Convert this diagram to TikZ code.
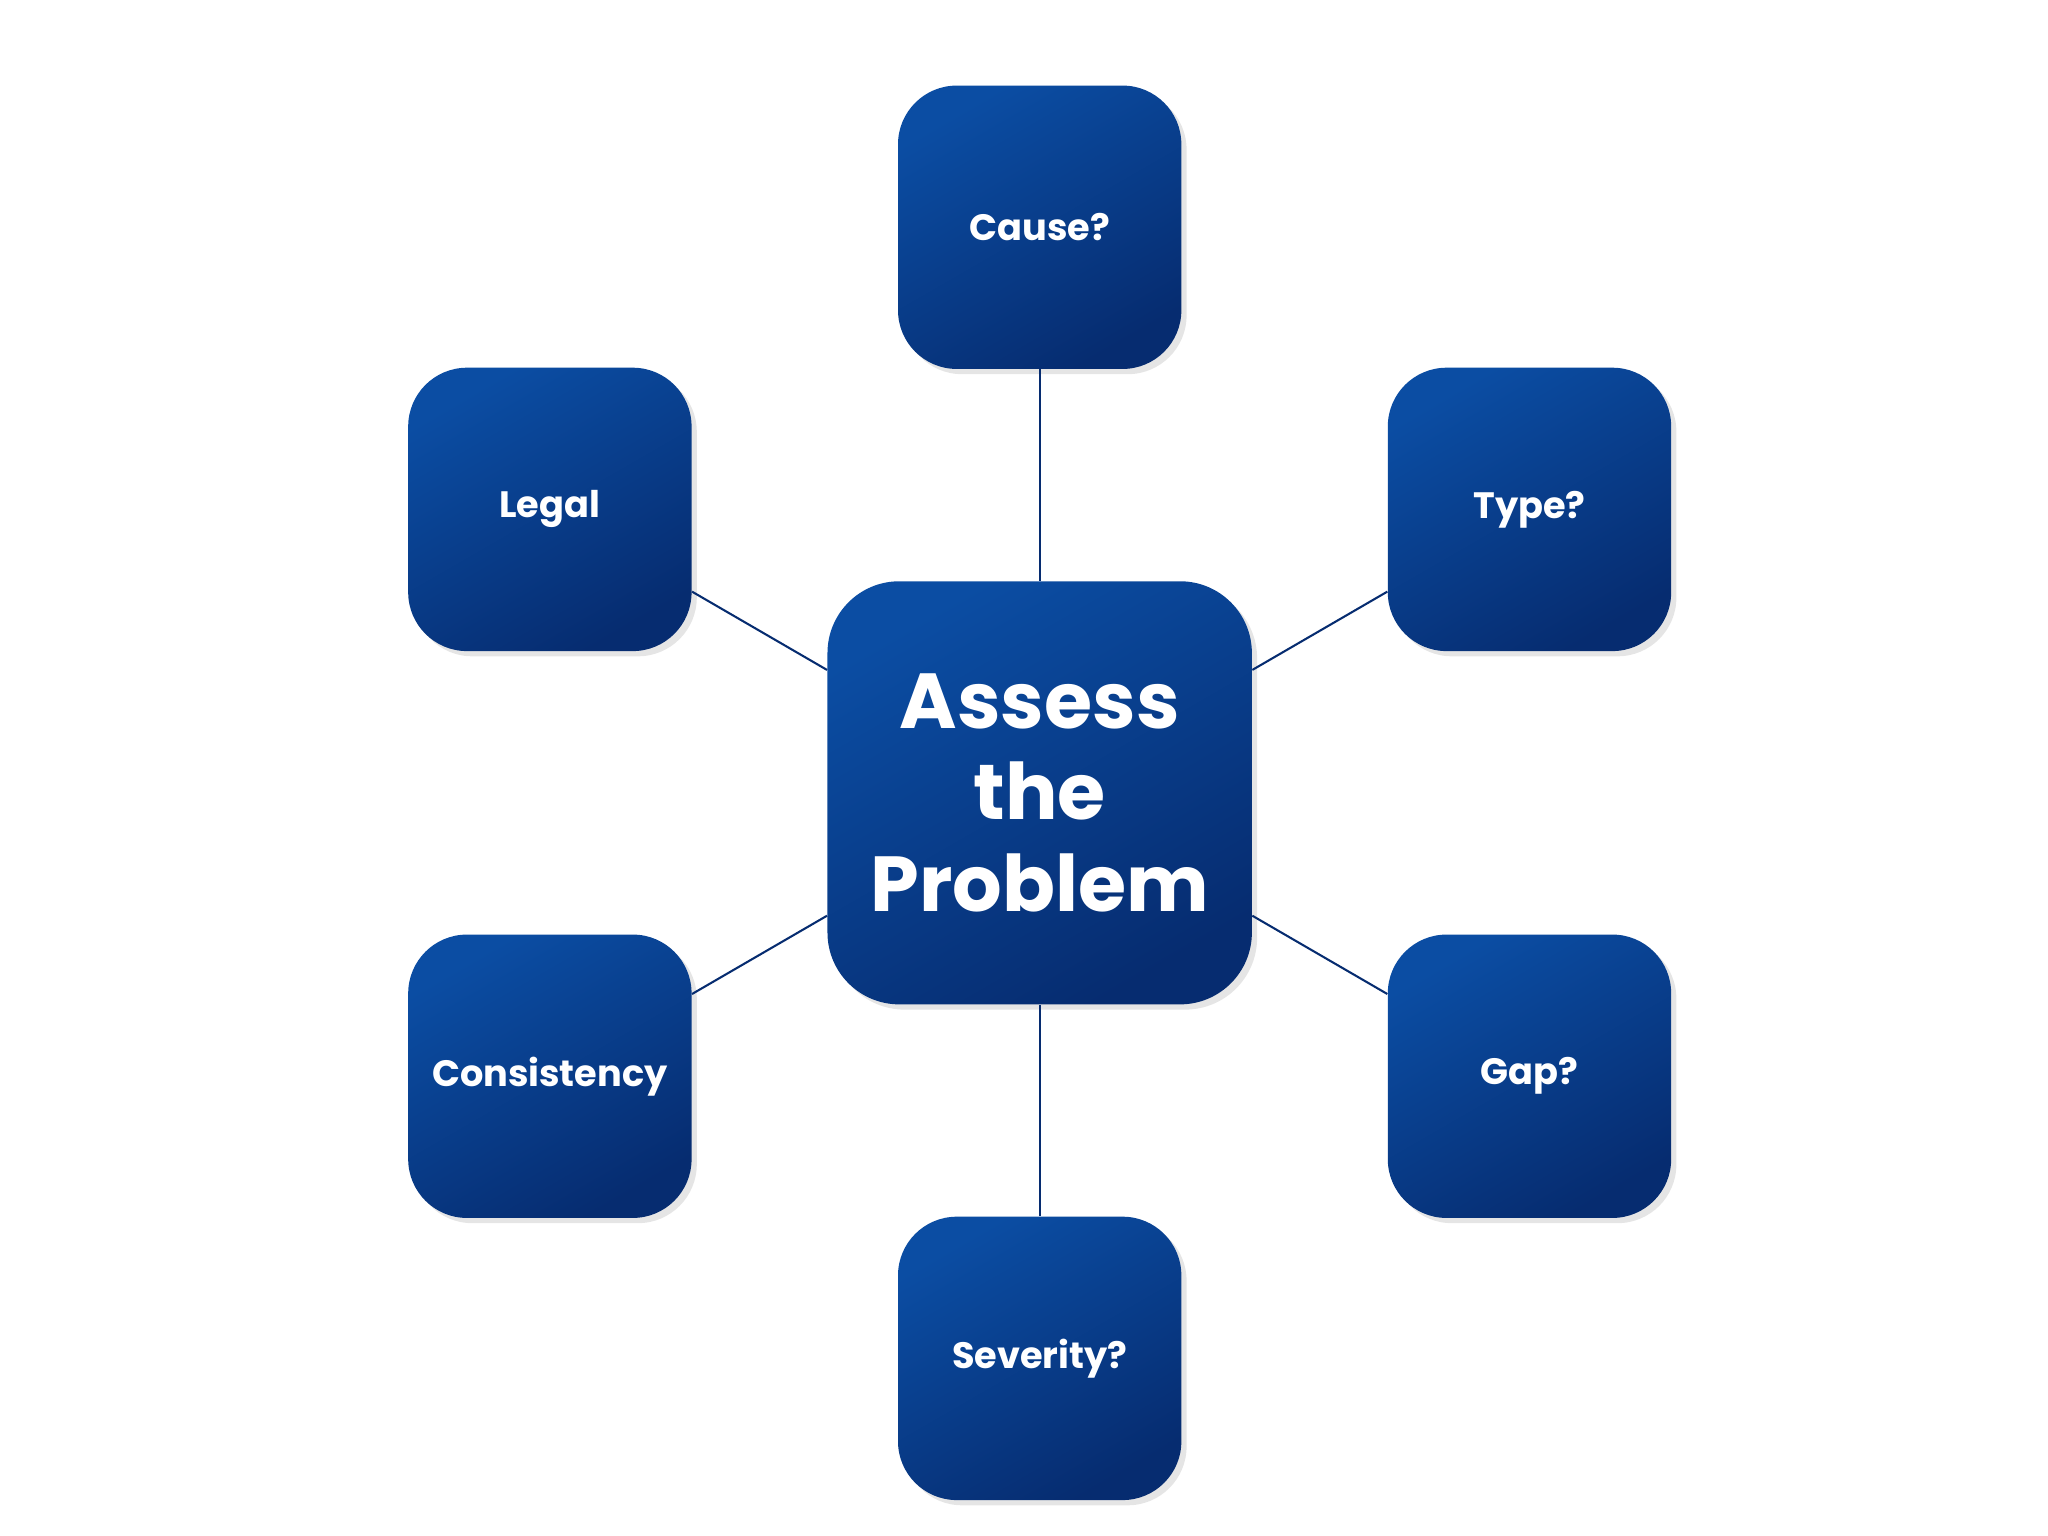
\documentclass[tikz,border=0pt]{standalone}
\usepackage{fontspec}
\setmainfont{Poppins}
\usetikzlibrary{shadows}
\definecolor{bl1}{HTML}{0B4DA3}
\definecolor{bl2}{HTML}{062C70}
\begin{document}
\begin{tikzpicture}[x=0.02cm,y=-0.02cm,
  boxstyle/.style={draw=none,rounded corners=0.9cm,minimum width=4.34cm,minimum height=4.34cm,inner sep=0pt,
    top color=bl1,bottom color=bl2,shading angle=30,text=white,font=\bfseries\fontsize{16}{20}\selectfont,
    drop shadow={opacity=0.2,shadow xshift=0.08cm,shadow yshift=-0.08cm},align=center},
  bigbox/.style={boxstyle,rounded corners=1.1cm,minimum width=6.5cm,minimum height=6.48cm,font=\bfseries\fontsize{34}{40}\selectfont},
  link/.style={draw=bl2,line width=0.9pt}]
\useasboundingbox (0,0) rectangle (1568,1176);
\fill[white] (0,0) rectangle (1568,1176);
\node[bigbox] (c) at (796,607) {Assess\\the\\Problem};
\node[boxstyle] (cause) at (796,174) {Cause?};
\node[boxstyle] (legal) at (421,390) {Legal};
\node[boxstyle] (type) at (1171,390) {Type?};
\node[boxstyle] (cons) at (421,824) {Consistency};
\node[boxstyle] (gap) at (1171,824) {Gap?};
\node[boxstyle] (sev) at (796,1040) {Severity?};
\foreach \n in {cause,legal,type,cons,gap,sev} \draw[link] (c) -- (\n);
\end{tikzpicture}
\end{document}
